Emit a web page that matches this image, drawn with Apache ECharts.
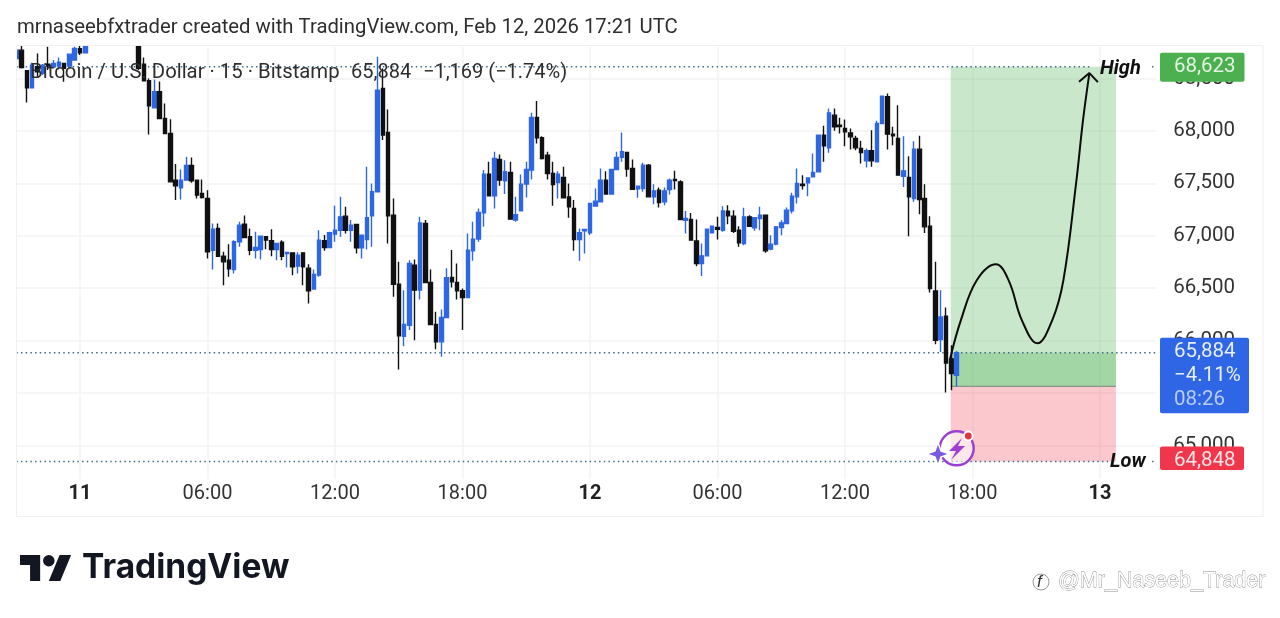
<!DOCTYPE html>
<html><head><meta charset="utf-8">
<style>html,body{margin:0;padding:0;background:#fff}#c{width:1280px;height:618px}</style>
<script src="https://cdn.jsdelivr.net/npm/echarts@6/dist/echarts.min.js"></script>
</head><body><div id="c"></div>
<script>
var opens=[68691,68770,68573,68411,68612,68548,68637,68612,68618,68643,
68618,68675,68783,68745,null,null,null,null,null,null,
null,null,null,68802,68637,68478,68220,68373,68118,67975,
67530,67457,67530,67670,67530,67403,67355,66862,67069,66805,
66767,66678,66942,67111,66990,66862,66869,66990,66952,66869,
66939,66831,66837,66710,66837,66691,66491,66624,66952,66888,
67015,67053,67187,67053,67107,66885,66964,67190,67419,68405,
67985,67196,66538,66042,66147,66720,66481,67117,66554,66153,
65988,66220,66602,66554,66475,66411,66856,66968,67219,67587,
67381,67727,67524,67603,67149,67238,67492,67626,68128,67934,
67769,67594,67508,67556,67371,67260,66964,67047,67028,67282,
67324,67530,67397,67632,67747,67794,67642,67448,67450,67673,
67371,67435,67323,67441,67536,67514,67148,67155,66951,66735,
66808,67027,67078,67053,67234,67187,67053,66926,67180,67075,
67164,67196,66872,66920,67078,67117,67237,67371,67492,67504,
67562,67609,67959,67838,68150,68055,68023,67981,67927,67832,
67714,67810,67705,68071,68325,67969,67927,67568,67555,67355,
67826,67355,67091,66474,66010,66232,65826,65668];
var closes=[68770,68605,68411,68627,68564,68627,68618,68643,68656,68596,
68732,68786,68745,68802,null,null,null,null,null,null,
null,null,null,68596,68478,68239,68373,68118,67975,67514,
67476,67530,67670,67524,67387,67365,66846,67063,66805,66751,
66685,66942,67101,66983,66862,66888,66996,66958,66869,66926,
66805,66840,66704,66815,66704,66475,66630,66958,66888,67028,
67053,67180,67053,67101,66885,67006,67171,67419,68389,67960,
67190,66538,66045,66153,66735,66481,67123,66554,66153,65988,
66220,66599,66560,66475,66411,66863,66968,67222,67587,67381,
67737,67530,67610,67158,67200,67492,67632,68128,67934,67737,
67594,67489,67587,67362,67276,66964,67028,67060,67308,67330,
67530,67397,67632,67747,67801,67635,67444,67473,67673,67371,
67428,67317,67428,67530,67527,67155,67164,66958,66735,66808,
67062,67091,67062,67237,67190,67043,66932,67180,67091,67171,
67196,66856,66920,67085,67123,67244,67377,67498,67479,67552,
67603,67959,67857,68172,68039,68042,67991,67943,67838,67794,
67810,67714,68071,68331,67969,67953,67578,67619,67371,67826,
67346,67085,66497,66003,66226,65787,65686,65884];
var highs=[68777,68809,68580,68650,68739,68637,68802,68675,68701,68650,
68738,68802,68818,68815,null,null,null,null,null,null,
null,null,null,68809,68701,68500,68491,68472,68262,68112,
67683,67632,67753,67747,67536,67536,67435,67117,67117,66847,
66920,66958,67133,67193,67069,67037,67000,66990,67063,66926,
66958,66840,66843,66843,66843,66729,66678,67053,67006,67037,
67285,67371,67276,67149,67107,67006,67658,67499,68707,68596,
68205,67355,66751,66481,66767,66773,67180,67149,66678,66274,
66297,66691,66863,66735,66497,67022,67133,67260,67626,67705,
67801,67775,67721,67705,67371,67584,67705,68173,68284,67950,
67801,67705,67616,67658,67499,67340,67069,67060,67308,67451,
67642,67616,67632,67801,67985,67801,67727,67473,67695,67683,
67492,67460,67460,67546,67619,67530,67237,67218,67155,66926,
67069,67097,67180,67282,67291,67244,67091,67266,67196,67171,
67276,67196,67005,67094,67148,67269,67409,67641,67578,67552,
67784,67959,68048,68214,68214,68125,68109,68023,67953,67905,
67832,68007,68096,68331,68357,68039,68245,67950,67759,67902,
67953,67492,67187,66751,66481,66315,65956,65900];
var lows=[68675,68596,68271,68411,68516,68532,68580,68596,68586,68468,
68596,68675,68723,68745,null,null,null,null,null,null,
null,null,null,68580,68478,67966,68214,68118,67975,67514,
67340,67346,67530,67505,67355,67355,66783,66678,66805,66528,
66608,66640,66894,66983,66815,66783,66773,66872,66805,66767,
66767,66697,66624,66640,66528,66354,66491,66608,66856,66888,
66942,66990,67022,66942,66831,66783,66869,66894,67419,67912,
66926,66417,65724,65947,66100,66004,66392,66554,66153,65918,
65845,66220,66506,66392,66100,66411,66761,66942,67085,67381,
67260,67476,67397,67158,67133,67238,67365,67537,67880,67728,
67537,67285,67355,67362,67171,66856,66761,66831,67006,67276,
67324,67397,67397,67632,67705,67562,67444,67362,67419,67371,
67301,67269,67291,67393,67441,67155,67021,66958,66710,66617,
66808,67021,66964,67037,67110,67027,66894,66910,67085,67047,
67053,66837,66862,66910,67005,67110,67212,67307,67441,67377,
67562,67609,67705,67791,68001,67975,67854,67823,67816,67689,
67651,67657,67705,68071,67823,67864,67578,67466,66996,67323,
67206,67027,66458,65965,65892,65504,65527,65563];
var barSlots=215;
var timeTickIndex=[12,36,60,84,108,132,156,180,204];
var timeTickLabels=['11','06:00','12:00','18:00','12','06:00','12:00','18:00','13'];
var dayTicks=['11','12','13'];
var priceTicks=[65000,65500,66000,66500,67000,67500,68000,68500];
var targetHigh=68612, targetLow=64848, lastPrice=65884, entryPrice=65563;
var boxStart=175.9, boxEnd=207;
var curveX=[175.8,177.8,180.8,184.4,186.8,189.3,192.2,195,197.1,199.5,200.8,202];
var curveY=[65830,66193,66575,66728,66575,66193,65974,66193,66575,67501,68102,68551];
var arrowX=[200.05,202,203.6];
var arrowY=[68468,68551,68465];

var categories=[];for(var i=0;i<barSlots;i++)categories.push(String(i));
var candles=opens.map(function(o,i){return o===null?['-','-','-','-']:[o,closes[i],lows[i],highs[i]];});
function zip(a,b){return a.map(function(v,i){return [v,b[i]];});}
var blue='#2f66e2',black='#111111';
var dotStyle={color:'#3f6b88',width:1.5,type:[1.5,3.2]};
var gridColor='#f3f3f5';
function dotted(name,x0,x1,y){return {name:name,type:'line',xAxisIndex:1,yAxisIndex:0,symbol:'none',silent:true,z:4,lineStyle:dotStyle,data:[[x0,y],[x1,y]]};}
var el=document.getElementById('c');
var chart=echarts.init(el,null,{renderer:'canvas'});
chart.setOption({
 animation:false,backgroundColor:'#fff',
 grid:{left:13.6,top:47,width:1142.2,height:432,containLabel:false},
 xAxis:[
  {type:'category',data:categories,boundaryGap:true,axisLine:{show:false},axisTick:{show:false},splitLine:{show:false},
   axisLabel:{margin:5,fontFamily:'Roboto',fontSize:20,color:'#333',hideOverlap:false,
    interval:function(i){return timeTickIndex.indexOf(i)>=0;},
    formatter:function(v,i){var k=timeTickIndex.indexOf(i);if(k<0)return '';var t=timeTickLabels[k];return dayTicks.indexOf(t)>=0?'{b|'+t+'}':t;},
    rich:{b:{fontFamily:'Roboto',fontSize:20,fontWeight:'bold',color:'#222'}}}},
  {type:'value',min:-0.5,max:barSlots-0.5,position:'top',axisLine:{show:false},axisLabel:{show:false},
   axisTick:{show:false,customValues:timeTickIndex},
   splitLine:{show:true,lineStyle:{color:gridColor,width:1.5}}}
 ],
 yAxis:[{type:'value',position:'right',min:64680,max:68800,scale:true,axisLine:{show:false},
   axisTick:{show:false,customValues:priceTicks},
   splitLine:{show:true,lineStyle:{color:gridColor,width:1.5}},
   axisLabel:{margin:17.5,fontFamily:'Roboto',fontSize:20.5,color:'#333',padding:[2,0,0,0],customValues:priceTicks,
     formatter:function(v){return v.toLocaleString('en-US');}}}],
 series:[
  {name:'Position',type:'line',xAxisIndex:1,yAxisIndex:0,data:[],z:2,silent:true,
   markArea:{silent:true,data:[
     [{coord:[boxStart,targetHigh],itemStyle:{color:'rgba(76,175,80,0.30)'}},{coord:[boxEnd,entryPrice]}],
     [{coord:[boxStart,lastPrice],itemStyle:{color:'rgba(76,175,80,0.30)'}},{coord:[boxEnd,entryPrice]}],
     [{coord:[boxStart,entryPrice],itemStyle:{color:'rgba(242,54,69,0.27)'}},{coord:[boxEnd,targetLow]}]
   ]}},
  {name:'Entry',type:'line',xAxisIndex:1,yAxisIndex:0,symbol:'none',silent:true,z:2,lineStyle:{color:'#8d9488',width:1.3},data:[[boxStart,entryPrice],[boxEnd,entryPrice]]},
  dotted('TargetLine',0,202.1,targetHigh),
  dotted('TargetTick',213.8,214.5,targetHigh),
  dotted('LastLine',0,214.5,lastPrice),
  dotted('StopLine',0,205.5,targetLow),
  dotted('StopTick',213.8,214.5,targetLow),
  {name:'BTCUSD',type:'candlestick',xAxisIndex:0,yAxisIndex:0,data:candles,barWidth:4,z:5,silent:true,
   itemStyle:{color:blue,color0:black,borderColor:blue,borderColor0:black,borderWidth:1.4}},
  {name:'Path',type:'line',xAxisIndex:1,yAxisIndex:0,symbol:'none',smooth:0.4,smoothMonotone:'none',silent:true,z:7,
   lineStyle:{color:'#0c0c0c',width:2},data:zip(curveX,curveY)},
  {name:'Arrow',type:'line',xAxisIndex:1,yAxisIndex:0,symbol:'none',silent:true,z:7,
   lineStyle:{color:'#0c0c0c',width:2},data:zip(arrowX,arrowY)}
 ]
});

function py(v){return chart.convertToPixel({yAxisIndex:0},v);}
function txt(x,y,s,style){return {type:'text',x:x,y:y,z:60,silent:true,style:Object.assign({text:s,textVerticalAlign:'middle',fill:'#333',fontFamily:'Roboto'},style)};}
function tag(y0,h,w,col){return {type:'rect',z:50,silent:true,shape:{x:1160,y:y0,width:w,height:h,r:2},style:{fill:col}};}
var H=py(targetHigh),L=py(targetLow),P=py(lastPrice);
var frame='#f0f0f2';
var ix=956.7,iy=448.3;
chart.setOption({graphic:{elements:[
 {type:'rect',z:40,silent:true,shape:{x:0,y:0,width:16.5,height:618},style:{fill:'#fff'}},
 {type:'rect',z:41,silent:true,shape:{x:16.5,y:45.5,width:1246.5,height:471},style:{fill:'none',stroke:frame,lineWidth:1}},
 txt(17,27.5,'mrnaseebfxtrader created with TradingView.com, Feb 12, 2026 17:21 UTC',{fontSize:20.3,fill:'#2e2e2e'}),
 txt(30,73,'Bitcoin / U.S. Dollar · 15 · Bitstamp',{fontSize:20.3,fill:'#2e2e2e'}),
 txt(351,73,'65,884',{fontSize:20,fill:'#2e2e2e'}),
 txt(423,73,'−1,169 (−1.74%)',{fontSize:20,fill:'#2e2e2e'}),
 txt(1100,H+2.5,'High',{fontSize:20,fontWeight:'bold',fontStyle:'italic',fill:'#111'}),
 txt(1110,L+1,'Low',{fontSize:20,fontWeight:'bold',fontStyle:'italic',fill:'#111'}),
 tag(H-14,29,84.5,'#4caf50'),
 txt(1174,H+0.5,'68,623',{fontSize:20.5,fill:'#e2f3e2'}),
 tag(P-15,75.5,89,'#2e66e6'),
 txt(1174,P-1,'65,884',{fontSize:20.5,fill:'#e8eefc'}),
 txt(1174,P+23,'−4.11%',{fontSize:20.5,fill:'#e8eefc'}),
 txt(1174,P+47,'08:26',{fontSize:20.5,fill:'#b9ccf7'}),
 tag(L-15,23.5,84,'#f0364a'),
 txt(1174,L-1,'64,848',{fontSize:20.5,fill:'#fde4e6'}),
 {type:'circle',z:55,silent:true,shape:{cx:ix,cy:iy,r:17},style:{fill:'rgba(255,255,255,0.55)',stroke:'#9a3fd0',lineWidth:2.4}},
 {type:'polygon',z:56,silent:true,shape:{points:[[962,438],[949,451],[956,451],[951,460],[965,446],[958,446]]},style:{fill:'#a03fd0'}},
 {type:'polygon',z:56,silent:true,shape:{points:[[938,442.5],[941,451],[949.5,454],[941,457],[938,465.5],[935,457],[926.5,454],[935,451]]},style:{fill:'#7a5be0',stroke:'#fff',lineWidth:1.5}},
 {type:'circle',z:57,silent:true,shape:{cx:968.3,cy:436,r:4.4},style:{fill:'#e53440',stroke:'#fff',lineWidth:2}},
 {type:'polygon',z:30,silent:true,x:20,y:549.2,scaleX:1.44,scaleY:1.44,shape:{points:[[0,4],[14,4],[14,22],[7,22],[7,11],[0,11]]},style:{fill:'#131722'}},
 {type:'polygon',z:30,silent:true,x:20,y:549.2,scaleX:1.44,scaleY:1.44,shape:{points:[[20,22],[27.5,4],[35.5,4],[28,22]]},style:{fill:'#131722'}},
 {type:'circle',z:30,silent:true,shape:{cx:48.8,cy:560.7,r:5.76},style:{fill:'#131722'}},
 txt(82,568,'TradingView',{fontFamily:'Inter',fontSize:33.5,fontWeight:700,fill:'#131722'}),
 txt(1058,581,'@Mr_Naseeb_Trader',{fontFamily:'Liberation Sans',fontSize:21.5,fill:'#fff',stroke:'#8e8e8e',lineWidth:0.8}),
 {type:'circle',z:30,silent:true,shape:{cx:1041,cy:582,r:8},style:{fill:'none',stroke:'#999',lineWidth:1}},
 txt(1037,582,'f',{fontFamily:'Liberation Sans',fontStyle:'italic',fontSize:17,fill:'#333'})
]}});
</script></body></html>
